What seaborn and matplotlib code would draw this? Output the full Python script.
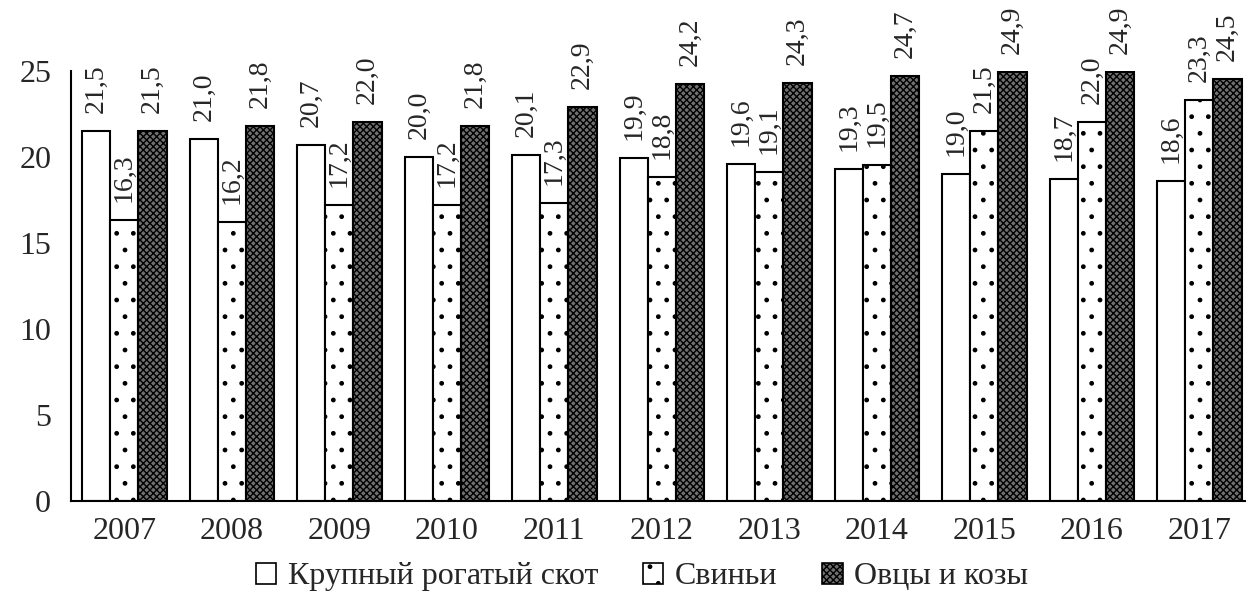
import numpy as np
import pandas as pd
import matplotlib
matplotlib.use('Agg')
import matplotlib.pyplot as plt
from matplotlib.patches import Patch
import seaborn as sns

# chart data
years = ['2007', '2008', '2009', '2010', '2011', '2012', '2013', '2014', '2015', '2016', '2017']
series_names = ['Крупный рогатый скот', 'Свиньи', 'Овцы и козы']
cattle = [21.5, 21.0, 20.7, 20.0, 20.1, 19.9, 19.6, 19.3, 19.0, 18.7, 18.6]
pigs = [16.3, 16.2, 17.2, 17.2, 17.3, 18.8, 19.1, 19.5, 21.5, 22.0, 23.3]
sheep = [21.5, 21.8, 22.0, 21.8, 22.9, 24.2, 24.3, 24.7, 24.9, 24.9, 24.5]

df = pd.DataFrame({
    'year': years * 3,
    'value': cattle + pigs + sheep,
    'kind': [series_names[0]] * 11 + [series_names[1]] * 11 + [series_names[2]] * 11,
})

sns.set_style('white')
plt.rcParams['font.family'] = ['Liberation Serif', 'DejaVu Serif']
plt.rcParams['hatch.linewidth'] = 1.0

fig = plt.figure(figsize=(12.46, 6.01), dpi=100)
ax = fig.add_axes([0.0567, 0.1669, 0.949, 0.7155])

sns.barplot(data=df, x='year', y='value', hue='kind', hue_order=series_names,
            palette=['white', 'white', 'white'], width=0.787, edgecolor='black',
            linewidth=1.5, saturation=1, errorbar=None, ax=ax, legend=False)

hatches = ['', '.', 'xxxxx']
faces = ['white', 'white', '#707070']
for cont, h, fc in zip(ax.containers, hatches, faces):
    for p in cont:
        p.set_hatch(h)
        p.set_facecolor(fc)
        p.set_edgecolor('black')
    ax.bar_label(cont, labels=[f'{v:.1f}'.replace('.', ',') for v in cont.datavalues],
                 rotation=90, padding=13, fontsize=20, clip_on=False)

ax.set_ylim(0, 25)
ax.set_xlim(-0.5, 10.5)
ax.set_yticks([0, 5, 10, 15, 20, 25])
ax.set_xticks(np.arange(-0.5, 11, 1), minor=True)
ax.tick_params(axis='x', which='major', length=0, labelsize=23, pad=12)
ax.tick_params(axis='x', which='minor', length=8, width=1.5, direction='out')
ax.tick_params(axis='y', length=8, width=1.5, labelsize=23, direction='out', pad=6)
ax.set_xlabel('')
ax.set_ylabel('')
for s in ['top', 'right']:
    ax.spines[s].set_visible(False)
for s in ['left', 'bottom']:
    ax.spines[s].set_linewidth(1.5)
    ax.spines[s].set_color('black')

# legend with patch handles
handles = [Patch(facecolor=fc, edgecolor='black', hatch=h, linewidth=1.2)
           for h, fc in zip(hatches, faces)]
fig.legend(handles, series_names, loc='center', bbox_to_anchor=(0.515, 0.04),
           ncol=3, frameon=False, fontsize=23, handlelength=0.65, handleheight=0.65,
           handletextpad=0.35, columnspacing=1.4)

fig.savefig('out.png', dpi=100)
